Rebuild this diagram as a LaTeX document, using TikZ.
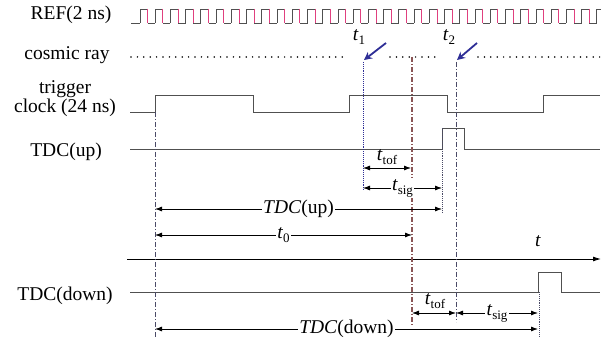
\documentclass[tikz,border=0pt]{standalone}
\usepackage{fontspec}
\setmainfont{Liberation Serif}
\newfontfamily\tnr{Liberation Serif}
\usetikzlibrary{arrows.meta}
\definecolor{wave}{HTML}{505050}
\definecolor{pinkc}{HTML}{E0407F}
\definecolor{navy}{HTML}{2E2E96}
\definecolor{brownc}{HTML}{8A5555}
\definecolor{vline}{HTML}{4A4A66}
\newcommand\tsb[2]{\textit{#1}\raisebox{-0.45ex}{\fontsize{13}{13}\selectfont #2}}
\begin{document}
\begin{tikzpicture}[x=1pt,y=-1pt,
  every node/.style={font=\tnr\fontsize{19.5}{19}\selectfont, inner sep=1pt},
  wavel/.style={draw=wave, line width=0.9pt},
  dim/.style={{Latex[length=7pt,width=5pt]}-{Latex[length=7pt,width=5pt]}, line width=0.8pt},
  lab/.style={fill=white, inner sep=1.5pt},
  dots/.style={line width=1.7pt, line cap=round, dash pattern=on 0pt off 6.4pt, draw=black},
  dashdot/.style={dash pattern=on 5pt off 2pt on 1pt off 2pt, line width=0.9pt},
  ray/.style={draw=navy, line width=1.8pt, -{Stealth[length=8pt,width=8pt]}}]
\useasboundingbox (0,0) rectangle (608,339);

% labels
\node (lref) at (71,15) {REF(2 ns)};
\node (lcos) at (67,55) {cosmic ray};
\node[align=center] (ltrig) at (65,99) {trigger\\clock (24 ns)};
\node (lup) at (66,152) {TDC(up)};
\node (ldn) at (65,296) {TDC(down)};

% REF clock
\draw[wavel] (131,23) -- (140,23);
\foreach \k in {0,...,29}{
  \draw[wavel] ({140+\k*15.23},23) -- ({140+\k*15.23},9) -- ({140+(\k+0.5)*15.23},9);
  \draw[draw=pinkc, line width=0.9pt] ({140+(\k+0.5)*15.23},9) -- ({140+(\k+0.5)*15.23},23);
  \draw[wavel] ({140+(\k+0.5)*15.23},23) -- ({140+(\k+1)*15.23},23);
}
\draw[wavel] ({140+30*15.23},23) -- ({140+30*15.23},9) -- (601,9);

% cosmic ray dotted line
\draw[dots] (131,57) -- (346,57);
\draw[dots] (390,57) -- (441,57);
\draw[dots] (478,57) -- (601,57);

% trigger clock
\draw[wavel] (130,112) -- (155,112) -- (155,95) -- (253,95) -- (253,112) -- (349,112)
  -- (349,95) -- (447,95) -- (447,112) -- (543,112) -- (543,95) -- (600,95);
% TDC(up)
\draw[wavel] (130,149) -- (442,149) -- (442,128) -- (464,128) -- (464,149) -- (600,149);
% TDC(down)
\draw[wavel] (130,292) -- (538,292) -- (538,272) -- (561,272) -- (561,292) -- (600,292);

% time axis
\coordinate (ax0) at (127,259);
\coordinate (ax1) at (601,259);
\draw[line width=0.9pt, -{Latex[length=8pt,width=5pt]}] (ax0) -- (ax1);
\node (tl) at (538,241) {\textit{t}};

% vertical reference lines
\coordinate (v0t) at (155,112); \coordinate (v0b) at (155,339);
\coordinate (v1t) at (363,62);  \coordinate (v1b) at (363,190);
\coordinate (v2t) at (412,57);  \coordinate (v2b) at (412,326);
\coordinate (v3t) at (442,128); \coordinate (v3b) at (442,212);
\coordinate (v4t) at (456,62);  \coordinate (v4b) at (456,322);
\coordinate (v5t) at (539,292); \coordinate (v5b) at (539,336);
\draw[vline, dashdot] (v0t) -- (v0b);
\draw[navy, densely dotted, line width=0.9pt] (v1t) -- (v1b);
\draw[brownc, dashdot, line width=1.1pt] (v2t) -- (v2b);
\draw[vline, densely dotted, line width=0.9pt] (v3t) -- (v3b);
\draw[vline, dash pattern=on 5pt off 2pt on 1pt off 2pt, line width=0.9pt] (v4t) -- (v4b);
\draw[vline, densely dotted, line width=0.9pt] (v5t) -- (v5b);

% t1, t2 markers
\node (t1) at (359,37) {\tsb{t}{1}};
\node (t2) at (449,37) {\tsb{t}{2}};
\coordinate (r1s) at (386,43); \coordinate (r1e) at (364,60);
\coordinate (r2s) at (477,43); \coordinate (r2e) at (457,60);
\draw[ray] (r1s) -- (r1e);
\draw[ray] (r2s) -- (r2e);

% dimension arrows
\coordinate (a1l) at (363,168); \coordinate (a1r) at (411,168);
\draw[dim] (a1l) -- (a1r);
\node (ttof1) at (387,157) {\tsb{t}{tof}};

\coordinate (a2l) at (363,188); \coordinate (a2r) at (442,188);
\draw[dim] (a2l) -- node[lab] (tsig1) {\tsb{t}{sig}} (a2r);

\coordinate (a3l) at (155,209); \coordinate (a3r) at (442,209);
\draw[dim] (a3l) -- node[lab] (tdcup) {\textit{TDC}(up)} (a3r);

\coordinate (a4l) at (155,235); \coordinate (a4r) at (412,235);
\draw[dim] (a4l) -- node[lab] (tzero) {\tsb{t}{0}} (a4r);

\coordinate (a5l) at (412,313); \coordinate (a5r) at (456,313);
\draw[dim] (a5l) -- (a5r);
\node (ttof2) at (435,301) {\tsb{t}{tof}};

\coordinate (a6l) at (456,313); \coordinate (a6r) at (538,313);
\draw[dim] (a6l) -- node[lab] (tsig2) {\tsb{t}{sig}} (a6r);

\coordinate (a7l) at (155,329); \coordinate (a7r) at (538,329);
\draw[dim] (a7l) -- node[lab] (tdcdn) {\textit{TDC}(down)} (a7r);
\end{tikzpicture}
\end{document}
